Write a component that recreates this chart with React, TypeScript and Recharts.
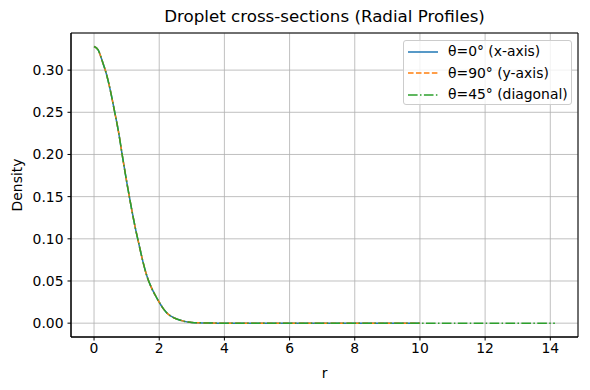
import {
  CartesianGrid,
  Line,
  LineChart,
  ReferenceArea,
  XAxis,
  YAxis,
} from 'recharts';

// radial samples (r) and density
const radius = [
  0, 0.125, 0.25, 0.375, 0.5, 0.625, 0.75, 0.875, 1, 1.125, 1.25, 1.375, 1.5, 1.625, 1.75, 1.875, 2, 2.125, 2.25, 2.375,
  2.5, 2.625, 2.75, 2.875, 3, 3.5, 4, 5, 6, 7, 8, 9, 10,
];
const density = [
  0.328, 0.324, 0.311, 0.296, 0.276, 0.252, 0.227, 0.197, 0.168, 0.141, 0.116, 0.094, 0.073, 0.0555, 0.043, 0.0334,
  0.0248, 0.0172, 0.0115, 0.008, 0.0055, 0.0037, 0.0024, 0.0015, 0.0009, 0.0002, 0, 0, 0, 0, 0, 0, 0,
];
// the diagonal cut runs further out, to r = 10*sqrt(2)
const diagonalTailR = [11, 12, 13, 14.14];
const diagonalTailDensity = [0, 0, 0, 0];

const xTicks = [0, 2, 4, 6, 8, 10, 12, 14];
const yTicks = [0, 0.05, 0.1, 0.15, 0.2, 0.25, 0.3];

const xDomain: [number, number] = [-0.707, 14.85];
const yDomain: [number, number] = [-0.0164, 0.344];

const toPoints = (rs: number[], ds: number[]) => rs.map((r, i) => ({ r, d: ds[i] }));

const xAxisCut = toPoints(radius, density);
const yAxisCut = toPoints(radius, density);
const diagonalCut = toPoints([...radius, ...diagonalTailR], [...density, ...diagonalTailDensity]);

const series = [
  { name: 'θ=0° (x-axis)', data: xAxisCut, color: '#1f77b4', dash: undefined },
  { name: 'θ=90° (y-axis)', data: yAxisCut, color: '#ff7f0e', dash: '5.55 2.4' },
  { name: 'θ=45° (diagonal)', data: diagonalCut, color: '#2ca02c', dash: '9.6 2.4 1.5 2.4' },
];

const font = 'DejaVu Sans, sans-serif';
const fs = 13.9;
const tickStyle = { fontSize: fs, fill: '#000', fontFamily: font };

function LegendBox(): JSX.Element {
  return (
    <div
      style={{
        position: 'absolute',
        left: 403,
        top: 40,
        width: 169,
        height: 65,
        boxSizing: 'border-box',
        background: 'rgba(255,255,255,0.8)',
        border: '1px solid #cccccc',
        borderRadius: 3,
        padding: '0 0 0 4px',
        fontFamily: font,
        fontSize: fs,
        lineHeight: '21.6px',
        color: '#000',
      }}
    >
      {series.map((s) => (
        <div key={s.name} style={{ display: 'flex', alignItems: 'center', whiteSpace: 'nowrap' }}>
          <svg width={30} height={6} style={{ marginRight: 10 }}>
            <line x1={0} y1={3} x2={30} y2={3} stroke={s.color} strokeWidth={1.5} strokeDasharray={s.dash} />
          </svg>
          <span>{s.name}</span>
        </div>
      ))}
    </div>
  );
}

export default function App(): JSX.Element {
  return (
    <div style={{ position: 'absolute', left: 0, top: 0, width: 590, height: 390, background: '#fff', fontFamily: font }}>
      <div
        style={{
          position: 'absolute',
          top: 6,
          left: 71,
          width: 507,
          textAlign: 'center',
          fontSize: 16.7,
          color: '#000',
          fontFamily: font,
        }}
      >
        Droplet cross-sections (Radial Profiles)
      </div>
      <LineChart width={590} height={390} margin={{ top: 33, right: 12, bottom: 0, left: 0 }}>
        <CartesianGrid stroke="#b0b0b0" strokeWidth={0.8} />
        <XAxis
          type="number"
          dataKey="r"
          domain={xDomain}
          ticks={xTicks}
          allowDataOverflow
          height={53}
          tickSize={3.5}
          tickMargin={3}
          tick={tickStyle}
          stroke="#000"
          tickLine={{ stroke: '#000' }}
          label={{ value: 'r', position: 'insideBottom', offset: 12, style: { fontSize: fs, fill: '#000', fontFamily: font } }}
        />
        <YAxis
          type="number"
          dataKey="d"
          domain={yDomain}
          ticks={yTicks}
          allowDataOverflow
          width={71}
          tickSize={3.5}
          tickMargin={4}
          tick={tickStyle}
          stroke="#000"
          tickLine={{ stroke: '#000' }}
          tickFormatter={(v: number) => v.toFixed(2)}
          label={{
            value: 'Density',
            angle: -90,
            position: 'insideLeft',
            offset: 17,
            style: { textAnchor: 'middle', fontSize: fs, fill: '#000', fontFamily: font },
          }}
        />
        <ReferenceArea x1={xDomain[0]} x2={xDomain[1]} y1={yDomain[0]} y2={yDomain[1]} fill="none" stroke="#000" strokeWidth={1} />
        {series.map((s) => (
          <Line
            key={s.name}
            data={s.data}
            dataKey="d"
            name={s.name}
            type="monotone"
            stroke={s.color}
            strokeWidth={1.5}
            strokeDasharray={s.dash}
            dot={false}
            isAnimationActive={false}
          />
        ))}
      </LineChart>
      <LegendBox />
    </div>
  );
}
